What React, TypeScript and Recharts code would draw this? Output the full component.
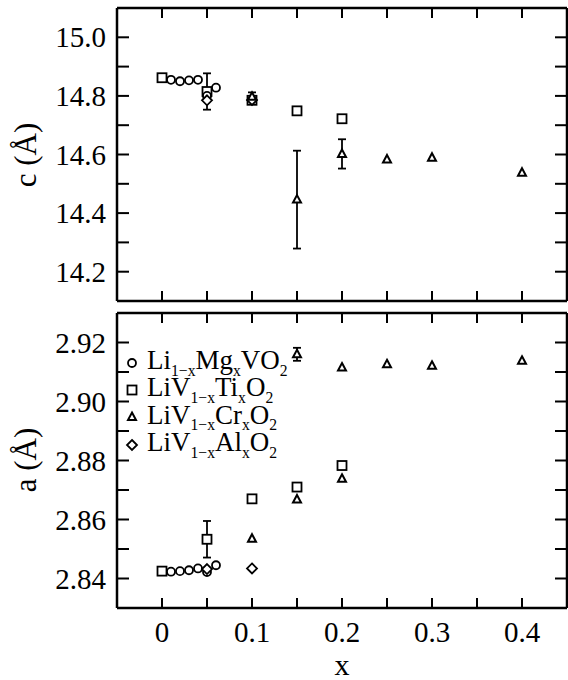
import { ScatterChart, Scatter, XAxis, YAxis, ErrorBar, Legend, ReferenceLine } from 'recharts'

const mgX = [0.01, 0.02, 0.03, 0.04, 0.05, 0.06]
const mgC = [14.855, 14.85, 14.853, 14.855, 14.8, 14.828]
const mgA = [2.8423, 2.8425, 2.8428, 2.8434, 2.8422, 2.8445]

const tiX = [0, 0.05, 0.1, 0.15, 0.2]
const tiC = [14.862, 14.815, 14.785, 14.749, 14.722]
const tiCErr = [undefined, 0.062, undefined, undefined, undefined]
const tiA = [2.8425, 2.8533, 2.867, 2.871, 2.8783]
const tiAErr = [undefined, 0.0062, undefined, undefined, undefined]

const crX = [0.1, 0.15, 0.2, 0.25, 0.3, 0.4]
const crC = [14.797, 14.446, 14.602, 14.583, 14.589, 14.538]
const crCErr = [0.015, 0.167, 0.05, undefined, undefined, undefined]
const crHighX = [0.15, 0.2, 0.25, 0.3, 0.4]
const crHighA = [2.916, 2.9115, 2.9126, 2.9121, 2.9138]
const crHighAErr = [0.0022, undefined, undefined, undefined, undefined]
const crLowX = [0.1, 0.15, 0.2]
const crLowA = [2.8535, 2.8668, 2.8738]

const alX = [0.05, 0.1]
const alC = [14.785, 14.786]
const alA = [2.8432, 2.8434]

const xTicks = [0, 0.05, 0.1, 0.15, 0.2, 0.25, 0.3, 0.35, 0.4]
const cTicks = [14.2, 14.3, 14.4, 14.5, 14.6, 14.7, 14.8, 14.9, 15.0]
const aTicks = [2.84, 2.85, 2.86, 2.87, 2.88, 2.89, 2.9, 2.91, 2.92]

const legendItems = [
  { kind: 'circle', parts: [['Li', 0], ['1−x', 1], ['Mg', 0], ['x', 1], ['VO', 0], ['2', 1]] },
  { kind: 'square', parts: [['LiV', 0], ['1−x', 1], ['Ti', 0], ['x', 1], ['O', 0], ['2', 1]] },
  { kind: 'triangle', parts: [['LiV', 0], ['1−x', 1], ['Cr', 0], ['x', 1], ['O', 0], ['2', 1]] },
  { kind: 'diamond', parts: [['LiV', 0], ['1−x', 1], ['Al', 0], ['x', 1], ['O', 0], ['2', 1]] },
]

const FONT = '"Liberation Serif", "Times New Roman", serif'
const W = 568
const GAP = 8
const X_DOM = [-0.05, 0.45]
const C_DOM = [14.1, 15.1]
const A_DOM = [2.83, 2.93]

const pts = (xs: number[], ys: number[], errs?: (number | undefined)[]) =>
  xs.map((x, i) => ({ x, y: ys[i], err: errs ? errs[i] : undefined }))

const Mark = ({ cx, cy, kind }: any) => {
  if (cx == null || cy == null) return null
  const st = { fill: '#fff', stroke: '#000', strokeWidth: 1.8 }
  if (kind === 'circle') return <circle cx={cx} cy={cy} r={4} {...st} />
  if (kind === 'square') return <rect x={cx - 4.5} y={cy - 4.5} width={9} height={9} {...st} />
  if (kind === 'triangle')
    return <polygon points={`${cx},${cy - 4.5} ${cx + 4},${cy + 3} ${cx - 4},${cy + 3}`} {...st} strokeWidth={2} />
  return <polygon points={`${cx},${cy - 5} ${cx + 5},${cy} ${cx},${cy + 5} ${cx - 5},${cy}`} {...st} />
}

const shape = (kind: string) => (p: any) => <Mark cx={p.cx} cy={p.cy} kind={kind} />

const xFmt = (v: number) => (Math.round(v * 100) % 10 === 0 ? (v === 0 ? '0' : v.toFixed(1)) : '')
const cFmt = (v: number) => (Math.round(v * 10) % 2 === 0 ? v.toFixed(1) : '')
const aFmt = (v: number) => (Math.round(v * 100) % 2 === 0 ? v.toFixed(2) : '')

// tick label outside the frame
const TickText = (props: any) => {
  const { side, fmt } = props
  const X = Number(props.x)
  const Y = Number(props.y)
  const label = fmt ? fmt(props.payload.value) : ''
  if (!label) return <g />
  return (
    <text
      x={side === 'left' ? X - 3 : X}
      y={side === 'bottom' ? Y + 16 : Y}
      textAnchor={side === 'left' ? 'end' : 'middle'}
      dominantBaseline='central'
      fontFamily={FONT}
      fontSize={29}
      fill='#000'
    >
      {label}
    </text>
  )
}

const common = {
  tickLine: false,
  tickSize: 0,
  tickMargin: GAP,
  allowDataOverflow: true,
  interval: 0 as const,
  type: 'number' as const,
  axisLine: { stroke: '#000', strokeWidth: 2.5 },
}

// inward tick marks on all four sides, as short segments in data units
const frameTicks = (yTicks: number[], yDom: number[], plotH: number) => {
  const dx = ((X_DOM[1] - X_DOM[0]) / 450) * 12
  const dyLen = ((yDom[1] - yDom[0]) / plotH) * 10
  const tick = { stroke: '#000', strokeWidth: 2, ifOverflow: 'visible' as const, xAxisId: 'b', yAxisId: 'l' }
  return [
    ...yTicks.map((t) => (
      <ReferenceLine key={`l${t}`} {...tick} segment={[{ x: X_DOM[0], y: t }, { x: X_DOM[0] + dx, y: t }]} />
    )),
    ...yTicks.map((t) => (
      <ReferenceLine key={`r${t}`} {...tick} segment={[{ x: X_DOM[1] - dx, y: t }, { x: X_DOM[1], y: t }]} />
    )),
    ...xTicks.map((t) => (
      <ReferenceLine key={`b${t}`} {...tick} segment={[{ x: t, y: yDom[0] }, { x: t, y: yDom[0] + dyLen }]} />
    )),
    ...xTicks.map((t) => (
      <ReferenceLine key={`t${t}`} {...tick} segment={[{ x: t, y: yDom[1] - dyLen }, { x: t, y: yDom[1] }]} />
    )),
  ]
}

const LegendBox = () => (
  <div style={{ fontFamily: FONT, fontSize: 27, color: '#000' }}>
    {legendItems.map((it) => (
      <div key={it.kind} style={{ display: 'flex', alignItems: 'center', height: 27.3, lineHeight: 1 }}>
        <svg width={16} height={16}>
          <Mark cx={8} cy={8} kind={it.kind} />
        </svg>
        <span style={{ marginLeft: 7, whiteSpace: 'nowrap', position: 'relative', top: -2 }}>
          {it.parts.map(([t, sub], i) =>
            sub ? (
              <span key={i} style={{ fontSize: '0.58em', position: 'relative', top: '0.42em' }}>
                {t}
              </span>
            ) : (
              <span key={i}>{t}</span>
            )
          )}
        </span>
      </div>
    ))}
  </div>
)

const errProps = { dataKey: 'err', direction: 'y' as const, width: 4, stroke: '#000', strokeWidth: 1.8 }

const TopPanel = () => (
  <ScatterChart width={W} height={305} margin={{ top: 0, right: 0, bottom: 0, left: 0 }}>
    <XAxis xAxisId='b' dataKey='x' domain={X_DOM} ticks={xTicks} height={4} tick={false} {...common} />
    <XAxis xAxisId='t' dataKey='x' orientation='top' domain={X_DOM} ticks={xTicks} height={8} tick={false} {...common} />
    <YAxis yAxisId='l' dataKey='y' domain={C_DOM} ticks={cTicks} width={117} tick={<TickText side='left' fmt={cFmt} />} {...common} />
    <YAxis yAxisId='r' dataKey='y' orientation='right' domain={C_DOM} ticks={cTicks} width={1} tick={false} {...common} />
    <Scatter xAxisId='t' yAxisId='r' data={pts(crX, crC)} shape={() => <g />} isAnimationActive={false} />
    {frameTicks(cTicks, C_DOM, 293)}
    <Scatter xAxisId='b' yAxisId='l' data={pts(tiX, tiC, tiCErr)} shape={shape('square')} isAnimationActive={false}>
      <ErrorBar {...errProps} />
    </Scatter>
    <Scatter xAxisId='b' yAxisId='l' data={pts(mgX, mgC)} shape={shape('circle')} isAnimationActive={false} />
    <Scatter xAxisId='b' yAxisId='l' data={pts(alX, alC)} shape={shape('diamond')} isAnimationActive={false} />
    <Scatter xAxisId='b' yAxisId='l' data={pts(crX, crC, crCErr)} shape={shape('triangle')} isAnimationActive={false}>
      <ErrorBar {...errProps} />
    </Scatter>
  </ScatterChart>
)

const BottomPanel = () => (
  <ScatterChart width={W} height={375} margin={{ top: 0, right: 0, bottom: 0, left: 0 }}>
    <XAxis xAxisId='b' dataKey='x' domain={X_DOM} ticks={xTicks} height={72} tick={<TickText side='bottom' fmt={xFmt} />} {...common} />
    <XAxis xAxisId='t' dataKey='x' orientation='top' domain={X_DOM} ticks={xTicks} height={8} tick={false} {...common} />
    <YAxis yAxisId='l' dataKey='y' domain={A_DOM} ticks={aTicks} width={117} tick={<TickText side='left' fmt={aFmt} />} {...common} />
    <YAxis yAxisId='r' dataKey='y' orientation='right' domain={A_DOM} ticks={aTicks} width={1} tick={false} {...common} />
    <Scatter xAxisId='t' yAxisId='r' data={pts(crHighX, crHighA)} shape={() => <g />} isAnimationActive={false} />
    {frameTicks(aTicks, A_DOM, 295)}
    <Scatter xAxisId='b' yAxisId='l' data={pts(tiX, tiA, tiAErr)} shape={shape('square')} isAnimationActive={false}>
      <ErrorBar {...errProps} />
    </Scatter>
    <Scatter xAxisId='b' yAxisId='l' data={pts(mgX, mgA)} shape={shape('circle')} isAnimationActive={false} />
    <Scatter xAxisId='b' yAxisId='l' data={pts(alX, alA)} shape={shape('diamond')} isAnimationActive={false} />
    <Scatter xAxisId='b' yAxisId='l' data={pts(crHighX, crHighA, crHighAErr)} shape={shape('triangle')} isAnimationActive={false}>
      <ErrorBar {...errProps} />
    </Scatter>
    <Scatter xAxisId='b' yAxisId='l' data={pts(crLowX, crLowA)} shape={shape('triangle')} isAnimationActive={false} />
    <Legend
      layout='vertical'
      align='center'
      verticalAlign='middle'
      content={<LegendBox />}
      wrapperStyle={{ left: 124, top: 44, width: 'auto', height: 'auto' }}
    />
  </ScatterChart>
)

const titleStyle = (top: number) => ({
  position: 'absolute' as const,
  left: 25,
  top,
  transform: 'translate(-50%, -50%) rotate(-90deg)',
  fontFamily: FONT,
  fontSize: 31,
  lineHeight: '31px',
  whiteSpace: 'nowrap' as const,
})

export default function App() {
  return (
    <div style={{ position: 'absolute', left: 0, top: 0, width: W, height: 680, background: '#fff' }}>
      <TopPanel />
      <BottomPanel />
      <div style={titleStyle(155)}>c (Å)</div>
      <div style={titleStyle(460)}>a (Å)</div>
      <div
        style={{
          position: 'absolute',
          left: 117,
          width: 450,
          top: 650,
          textAlign: 'center',
          fontFamily: FONT,
          fontSize: 30,
          lineHeight: '30px',
        }}
      >
        x
      </div>
    </div>
  )
}
